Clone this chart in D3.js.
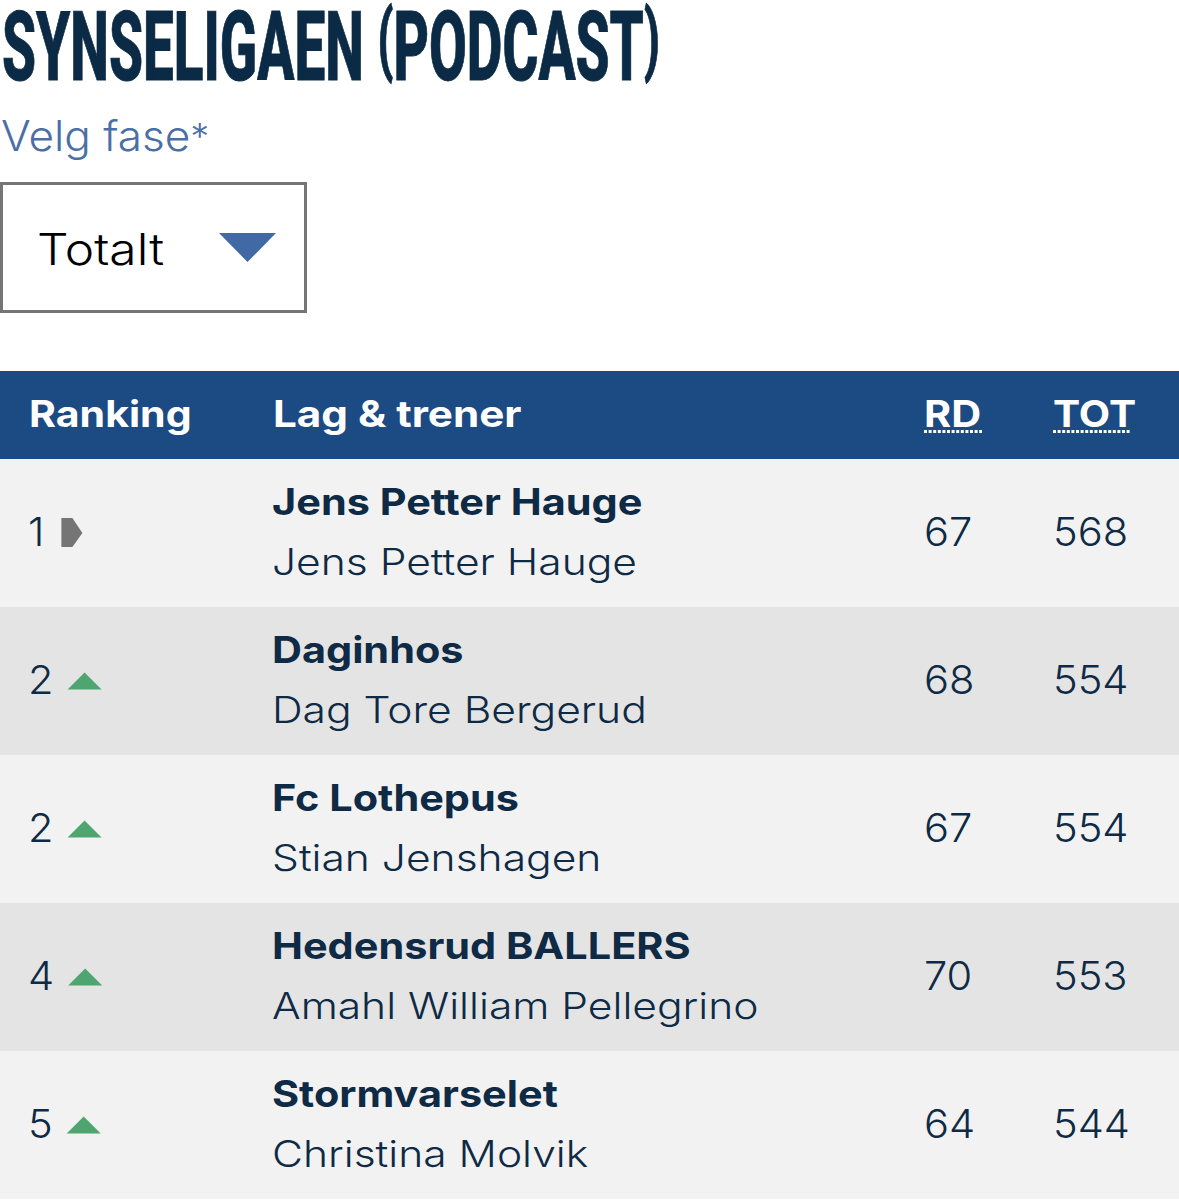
<!DOCTYPE html>
<html>
<head>
<meta charset="utf-8">
<script src="https://cdn.jsdelivr.net/npm/d3@7"></script>
<style>
  html, body { margin: 0; padding: 0; background: #fff; }
  svg { display: block; }
  text { font-family: Inter, "Open Sans", sans-serif; }
</style>
</head>
<body>
<svg id="chart" width="1179" height="1200"></svg>
<script>
// Table contents
const ranks = [1, 2, 2, 4, 5];
const moves = ["same", "up", "up", "up", "up"];
const teams = ["Jens Petter Hauge", "Daginhos", "Fc Lothepus", "Hedensrud BALLERS", "Stormvarselet"];
const managers = ["Jens Petter Hauge", "Dag Tore Bergerud", "Stian Jenshagen", "Amahl William Pellegrino", "Christina Molvik"];
const roundScores = [67, 68, 67, 70, 64];
const totalScores = [568, 554, 554, 553, 544];

const navy = "#0e2a44";
const blue = "#1c4a83";

const svg = d3.select("#chart");
const rowIdx = d3.range(ranks.length);

const y = d3.scaleBand().domain(rowIdx).range([459, 1199]);

// Inter is narrower than the original font, so text gets stretched sideways
const stretch = (x, yy, sx) => `translate(${x},${yy}) scale(${sx},1)`;

// Title, squeezed to look like the condensed original
// parens are set smaller and raised, the original ones barely drop below the baseline
const title = svg.append("text")
    .attr("transform", "translate(2,80) scale(0.566,1)")
    .attr("font-size", 97)
    .attr("font-weight", 800)
    .attr("fill", "#0b2a45")
    .attr("stroke", "#0b2a45")
    .attr("stroke-width", 1)
    .style("font-family", "'Liberation Sans Narrow', Roboto, sans-serif")
    .text("SYNSELIGAEN ");
title.append("tspan").attr("font-size", 80).attr("dy", -14).text("(");
title.append("tspan").attr("dy", 14).text("PODCAST");
title.append("tspan").attr("font-size", 80).attr("dy", -14).text(")");

const label = svg.append("text")
    .attr("transform", stretch(1, 151, 1.05))
    .attr("font-size", 42)
    .attr("font-weight", 300)
    .attr("fill", "#4a6fa5")
    .text("Velg fase");
label.append("tspan")
    .attr("font-size", 36)
    .attr("dy", -2)
    .text("*");

// Dropdown
svg.append("rect")
    .attr("x", 1.5).attr("y", 183.5)
    .attr("width", 304).attr("height", 128)
    .attr("fill", "#fff")
    .attr("stroke", "#757575")
    .attr("stroke-width", 3);

svg.append("text")
    .attr("transform", stretch(37, 265, 1.13))
    .attr("font-size", 44)
    .attr("font-weight", 300)
    .attr("fill", "#000")
    .text("Totalt");

svg.append("path")
    .attr("d", "M219,233H276L247.5,262Z")
    .attr("fill", "#4169a4");

// Header
svg.append("rect")
    .attr("x", 0).attr("y", 371)
    .attr("width", 1179).attr("height", 88)
    .attr("fill", blue);

const header = [["Ranking", 29, 1.11], ["Lag & trener", 273, 1.14], ["RD", 924, 1.12], ["TOT", 1053, 1.1]];
svg.selectAll(".head")
    .data(header)
    .enter()
    .append("text")
    .attr("class", "head")
    .attr("transform", d => stretch(d[1], 427, d[2]))
    .attr("font-size", 37)
    .attr("font-weight", 700)
    .attr("fill", "#fff")
    .text(d => d[0]);

// Dotted underline on the two abbreviations
[[924, 982], [1053, 1131]].forEach(d => {
    svg.append("line")
        .attr("x1", d[0]).attr("x2", d[1])
        .attr("y1", 431.5).attr("y2", 431.5)
        .attr("stroke", "#fff")
        .attr("stroke-width", 3)
        .attr("stroke-dasharray", "3 1.6");
});

// Rows
const rows = svg.selectAll(".row")
    .data(rowIdx)
    .enter()
    .append("g")
    .attr("class", "row")
    .attr("transform", i => `translate(0,${y(i)})`);

rows.append("rect")
    .attr("width", 1179)
    .attr("height", y.bandwidth())
    .attr("fill", i => i % 2 ? "#e4e4e4" : "#f2f2f2");

function cell(sel, x, yy, size, weight, sx, fn) {
    return sel.append("text")
        .attr("transform", stretch(x, yy, sx))
        .attr("font-size", size)
        .attr("font-weight", weight)
        .attr("fill", navy)
        .text(fn);
}

const rankText = cell(rows, 28, 87, 40, 300, 1.04, i => ranks[i]);
cell(rows, 272, 56, 37, 700, 1.12, i => teams[i]);
cell(rows, 272, 116, 37, 300, 1.15, i => managers[i]);
cell(rows, 924, 87, 40, 300, 1.04, i => roundScores[i]);
cell(rows, 1053, 87, 40, 300, 1.04, i => totalScores[i]);

// Movement marks sit just after the rank number
rows.append("path")
    .attr("transform", function(i) {
        const w = rankText.nodes()[i].getComputedTextLength() * 1.04;
        return `translate(${28 + w + 14},0)`;
    })
    .attr("d", i => moves[i] === "up" ? "M0,82.5L17,65.5L34,82.5Z" : "M3,59H14L24,74L14,88H3Z")
    .attr("fill", i => moves[i] === "up" ? "#4fa56f" : "#757575");
</script>
</body>
</html>
